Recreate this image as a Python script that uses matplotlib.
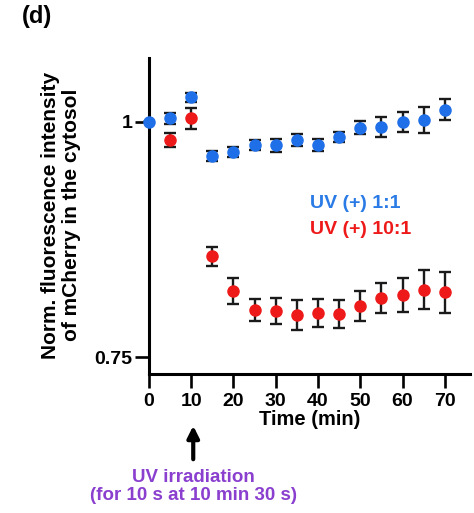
import matplotlib
matplotlib.use("Agg")
import matplotlib.pyplot as plt

plt.rcParams['font.family'] = ['Liberation Sans', 'DejaVu Sans']
plt.rcParams['font.weight'] = 'bold'

time_min = [0, 5, 10, 15, 20, 25, 30, 35, 40, 45, 50, 55, 60, 65, 70]
uv_1_1 = [1.000, 1.004, 1.026, 0.964, 0.968, 0.975, 0.975, 0.981, 0.975, 0.984,
          0.994, 0.995, 1.000, 1.002, 1.013]
uv_1_1_err = [0.0, 0.0057, 0.005, 0.0053, 0.005, 0.0053, 0.0068, 0.0064, 0.0064,
              0.0053, 0.0068, 0.0107, 0.0107, 0.0135, 0.011]
time_red = [5, 10, 15, 20, 25, 30, 35, 40, 45, 50, 55, 60, 65, 70]
uv_10_1 = [0.981, 1.004, 0.857, 0.8205, 0.800, 0.799, 0.7945, 0.797, 0.796,
           0.804, 0.8127, 0.816, 0.8216, 0.8187]
uv_10_1_err = [0.0075, 0.011, 0.0103, 0.0137, 0.0114, 0.0137, 0.016, 0.0146,
               0.0146, 0.016, 0.016, 0.018, 0.0205, 0.0217]

blue = '#1f6fe8'
red = '#ee1a1a'
purple = '#8a3fcf'

fig = plt.figure(figsize=(4.74, 5.13), dpi=100)
ax = fig.add_axes([0.314, 0.271, 0.678, 0.616])

ax.errorbar(time_red, uv_10_1, yerr=uv_10_1_err, fmt='o', color=red, ms=8,
            ecolor='#1a1a1a', elinewidth=1.7, capsize=4.5, capthick=1.7,
            clip_on=False, zorder=3)
ax.errorbar(time_min, uv_1_1, yerr=uv_1_1_err, fmt='o', color=blue, ms=8,
            ecolor='#1a1a1a', elinewidth=1.7, capsize=4.5, capthick=1.7,
            clip_on=False, zorder=3)

ax.set_xlim(0, 76)
ax.set_ylim(0.732, 1.068)
ax.set_xticks([0, 10, 20, 30, 40, 50, 60, 70])
ax.set_yticks([0.75, 1])
ax.set_yticklabels(['0.75', '1'])
ax.tick_params(labelsize=14, length=10, width=1.9, direction='out', pad=2)
ax.tick_params(axis='x', length=10, pad=4)
for s in ['top', 'right']:
    ax.spines[s].set_visible(False)
for s in ['left', 'bottom']:
    ax.spines[s].set_linewidth(2.2)

ax.set_xlabel('Time (min)', fontsize=14.5, fontweight='bold', labelpad=0)
fig.text(61 / 474, 1 - 215 / 513,
         'Norm. fluorescence intensity\nof mCherry in the cytosol',
         rotation=90, ha='center', va='center', multialignment='center',
         fontsize=15, fontweight='bold', linespacing=1.15)

ax.text(38.1, 0.9135, 'UV (+) 1:1', color='#2a7be6', fontsize=14,
        fontweight='bold', ha='left', va='center')
ax.text(38.1, 0.8857, 'UV (+) 10:1', color=red, fontsize=14,
        fontweight='bold', ha='left', va='center')

ax.annotate('', xy=(10.5, 1 - 423 / 513), xycoords=('data', 'figure fraction'),
            xytext=(10.5, 1 - 462 / 513), textcoords=('data', 'figure fraction'),
            arrowprops=dict(arrowstyle='-|>,head_width=0.35,head_length=0.7',
                            color='black', lw=3), annotation_clip=False)
ax.annotate('UV irradiation', xy=(10.5, 1 - 478 / 513),
            xycoords=('data', 'figure fraction'), ha='center', va='center',
            color=purple, fontsize=13.5, fontweight='bold', annotation_clip=False)
ax.annotate('(for 10 s at 10 min 30 s)', xy=(10.5, 1 - 496 / 513),
            xycoords=('data', 'figure fraction'), ha='center', va='center',
            color=purple, fontsize=13.5, fontweight='bold', annotation_clip=False)

fig.text(22 / 474, 1 - 17 / 513, '(d)', fontsize=17, fontweight='bold',
         ha='left', va='center')

fig.savefig('out.png', dpi=100)
